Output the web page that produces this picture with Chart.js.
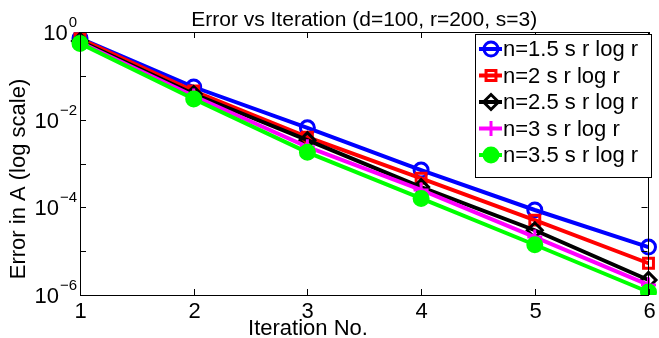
<!DOCTYPE html>
<html>
<head>
<meta charset="utf-8">
<script src="https://cdn.jsdelivr.net/npm/chart.js@4.4.1/dist/chart.umd.min.js"></script>
<style>
  html, body { margin: 0; padding: 0; background: #fff; }
  #wrap { width: 659px; height: 338px; position: relative; }
</style>
</head>
<body>
<div id="wrap"><canvas id="c"></canvas></div>
<script>
// iteration numbers on the x axis
const iterations = ['1', '2', '3', '4', '5', '6'];

// error per iteration, one array per sample size
const errN15 = [0.72, 0.0556, 0.0065, 7.1e-4, 8.7e-5, 1.24e-5];
const errN2  = [0.70, 0.045, 0.0040, 4.6e-4, 5.1e-5, 5.3e-6];
const errN25 = [0.62, 0.0385, 0.0034, 2.9e-4, 3.0e-5, 2.2e-6];
const errN3  = [0.58, 0.0347, 0.0024, 2.5e-4, 2.1e-5, 1.7e-6];
const errN35 = [0.55, 0.0296, 0.0018, 1.6e-4, 1.4e-5, 1.17e-6];

const seriesNames = ['n=1.5 s r log r', 'n=2 s r log r', 'n=2.5 s r log r', 'n=3 s r log r', 'n=3.5 s r log r'];

// y ticks: every decade gets a tick mark, even decades get a label
const yTicks = [1, 1e-1, 1e-2, 1e-3, 1e-4, 1e-5, 1e-6];
const yLabelExp = [0, -2, -4, -6];

const FONT = '"Liberation Sans", Arial, sans-serif';

const styles = [
  { color: '#0000ff', pointStyle: 'circle',  radius: 7, fill: 'rgba(0,0,0,0)' },
  { color: '#ff0000', pointStyle: 'rect',    radius: 7, fill: 'rgba(0,0,0,0)' },
  { color: '#000000', pointStyle: 'rectRot', radius: 7.5, fill: 'rgba(0,0,0,0)' },
  { color: '#ff00ff', pointStyle: 'cross',   radius: 7.5, fill: 'rgba(0,0,0,0)' },
  { color: '#00ff00', pointStyle: 'circle',  radius: 7, fill: '#00ff00' },
];

const allSeries = [errN15, errN2, errN25, errN3, errN35];

const datasets = allSeries.map((vals, i) => ({
  label: seriesNames[i],
  data: vals,
  borderColor: styles[i].color,
  backgroundColor: styles[i].fill,
  borderWidth: 4,
  pointStyle: styles[i].pointStyle,
  pointRadius: styles[i].radius,
  pointBorderWidth: 3,
  pointBorderColor: styles[i].color,
  pointBackgroundColor: styles[i].fill,
  tension: 0,
  order: 5 - i, // later series drawn on top, like matlab
}));

function drawPow(ctx, exp, xRight, yMid) {
  const expTxt = exp === 0 ? '0' : '\u2212' + Math.abs(exp);
  ctx.font = '15px ' + FONT;
  const ew = ctx.measureText(expTxt).width;
  ctx.textAlign = 'left';
  ctx.textBaseline = 'alphabetic';
  ctx.fillText(expTxt, xRight - ew, yMid - 5);
  ctx.font = '22px ' + FONT;
  ctx.textAlign = 'right';
  ctx.textBaseline = 'middle';
  ctx.fillText('10', xRight - ew - 1, yMid + 2);
}

const decoPlugin = {
  id: 'deco',
  afterDraw(chart) {
    const { ctx, chartArea: a, scales } = chart;
    const x = scales.x, y = scales.y;
    ctx.save();
    ctx.strokeStyle = '#000';
    ctx.fillStyle = '#000';
    ctx.lineWidth = 1;

    // axes box
    ctx.strokeRect(Math.round(a.left) + 0.5, Math.round(a.top) + 0.5,
      Math.round(a.right - a.left) - 1, Math.round(a.bottom - a.top));

    // x ticks + labels
    ctx.font = '22px ' + FONT;
    ctx.textAlign = 'center';
    ctx.textBaseline = 'top';
    iterations.forEach((lab, i) => {
      const px = Math.round(x.getPixelForValue(i)) + 0.5;
      ctx.beginPath();
      ctx.moveTo(px, a.bottom); ctx.lineTo(px, a.bottom - 6);
      ctx.moveTo(px, a.top); ctx.lineTo(px, a.top + 6);
      ctx.stroke();
      ctx.fillText(lab, px, a.bottom + 6);
    });

    // y ticks + labels
    yTicks.forEach(v => {
      const py = Math.round(y.getPixelForValue(v)) + 0.5;
      ctx.beginPath();
      ctx.moveTo(a.left, py); ctx.lineTo(a.left + 6, py);
      ctx.moveTo(a.right - 1, py); ctx.lineTo(a.right - 7, py);
      ctx.stroke();
    });
    yLabelExp.forEach(e => {
      drawPow(ctx, e, a.left - 3, y.getPixelForValue(Math.pow(10, e)));
    });

    // title and axis titles
    ctx.font = '21px ' + FONT;
    ctx.textAlign = 'center';
    ctx.textBaseline = 'alphabetic';
    ctx.fillText('Error vs Iteration (d=100, r=200, s=3)', (a.left + a.right) / 2, 26);
    ctx.font = '22px ' + FONT;
    ctx.fillText('Iteration No.', 308, 335);
    ctx.save();
    ctx.translate(25, 179);
    ctx.rotate(-Math.PI / 2);
    ctx.fillText('Error in A (log scale)', 0, 0);
    ctx.restore();

    // legend
    const lx = 475, ly = 34, lw = 176, lh = 143;
    ctx.fillStyle = '#fff';
    ctx.fillRect(lx, ly, lw, lh);
    ctx.strokeStyle = '#000';
    ctx.lineWidth = 1;
    ctx.strokeRect(lx + 0.5, ly + 0.5, lw, lh);
    ctx.font = '22px ' + FONT;
    ctx.textAlign = 'left';
    ctx.textBaseline = 'middle';
    seriesNames.forEach((name, i) => {
      const cy = ly + 15 + i * 26.5;
      const st = styles[i];
      ctx.strokeStyle = st.color;
      ctx.lineWidth = 4;
      ctx.beginPath();
      ctx.moveTo(lx + 4, cy); ctx.lineTo(lx + 27, cy);
      ctx.stroke();
      ctx.fillStyle = st.fill;
      ctx.lineWidth = 3;
      Chart.helpers.drawPoint(ctx, { pointStyle: st.pointStyle, radius: st.radius, borderWidth: 3, rotation: 0 }, lx + 16, cy);
      ctx.fillStyle = '#000';
      ctx.fillText(name, lx + 28, cy + 1);
    });
    ctx.restore();
  }
};

new Chart(document.getElementById('c'), {
  type: 'line',
  data: { labels: iterations, datasets: datasets },
  plugins: [decoPlugin],
  options: {
    responsive: true,
    maintainAspectRatio: false,
    animation: false,
    layout: { padding: { left: 80, right: 6, top: 32, bottom: 43 } },
    plugins: { legend: { display: false }, tooltip: { enabled: false }, title: { display: false } },
    scales: {
      x: {
        type: 'category',
        offset: false,
        grid: { display: false, drawTicks: false },
        border: { display: false },
        ticks: { display: false },
      },
      y: {
        type: 'logarithmic',
        min: 1e-6,
        max: 1,
        grid: { display: false, drawTicks: false },
        border: { display: false },
        ticks: { display: false },
      }
    }
  }
});
</script>
</body>
</html>
